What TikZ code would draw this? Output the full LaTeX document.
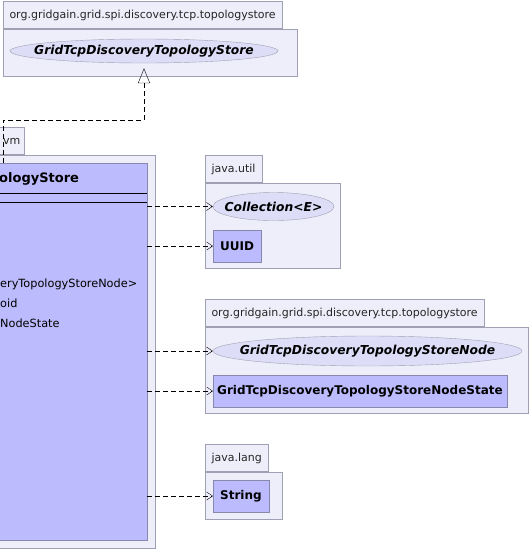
\documentclass[tikz,border=0pt]{standalone}
\usepackage{fontspec}
\setmainfont{DejaVu Sans}
\usetikzlibrary{positioning}
\usetikzlibrary{shapes.geometric}
\usetikzlibrary{arrows.meta}
\definecolor{pkgfill}{HTML}{EEEEFA}
\definecolor{pkgline}{HTML}{A0A0B4}
\definecolor{clsfill}{HTML}{BBBBFE}
\definecolor{clsline}{HTML}{8888AC}
\definecolor{ifcfill}{HTML}{DDDDF8}
\tikzstyle{pkgbody}=[draw=pkgline, fill=pkgfill, rectangle, inner sep=0pt]
\tikzstyle{pkgtab}=[draw=pkgline, fill=pkgfill, rectangle, anchor=south west, inner xsep=6.5pt, minimum height=27pt, font=\fontsize{11}{13}\selectfont, text=black!85]
\tikzstyle{iface}=[draw=pkgline, fill=ifcfill, ellipse, inner sep=0pt]
\tikzstyle{ifacename}=[inner sep=0pt, font=\fontsize{12.3}{14}\selectfont\bfseries\itshape]
\tikzstyle{cls}=[draw=clsline, fill=clsfill, rectangle, anchor=west, inner xsep=7pt, minimum height=32pt, font=\fontsize{12}{14}\selectfont\bfseries]
\tikzstyle{dep}=[dash pattern=on 5pt off 3pt, -{Straight Barb[length=6pt, width=8pt]}]
\tikzstyle{realize}=[dash pattern=on 5pt off 3pt, -{Triangle[open, length=15pt, width=12pt]}]

\begin{document}
\begin{tikzpicture}[x=1pt, y=-1pt]
    \useasboundingbox (0,0) rectangle (530,550);
    % topologystore package (top)
    \node[pkgbody, minimum width=294pt, minimum height=47pt] (top) at (150,52.5) {};
    \node[pkgtab] (toptab) at (top.north west) {org.gridgain.grid.spi.discovery.tcp.topologystore};
    \node[iface, minimum width=268pt, minimum height=24pt,
        label={[ifacename]center:GridTcpDiscoveryTopologyStore}] (store) at (144,51) {};
    % vm package
    \node[pkgbody, minimum width=156pt, minimum height=393pt] (vm) at (77,351.5) {};
    \node[pkgtab, inner xsep=4pt] (vmtab) at (vm.north west) {vm};
    \node[draw=clsline, fill=clsfill, rectangle, minimum width=148pt, minimum height=377pt] (main) at (73,351.5) {};
    \draw (main.west |- 0,193) -- (main.east |- 0,193);
    \draw (main.west |- 0,202) -- (main.east |- 0,202);
    \node[anchor=base west, inner sep=0pt, font=\fontsize{13}{15}\selectfont\bfseries] (mainname) at (-1,182) {ologyStore};
    \node[anchor=base west, inner sep=0pt, font=\fontsize{11.3}{13}\selectfont] (attr1) at (0,287) {eryTopologyStoreNode>};
    \node[anchor=base west, inner sep=0pt, font=\fontsize{11.3}{13}\selectfont] (attr2) at (0,307) {oid};
    \node[anchor=base west, inner sep=0pt, font=\fontsize{11.3}{13}\selectfont] (attr3) at (0,327) {NodeState};
    % java.util package
    \node[pkgbody, minimum width=135pt, minimum height=85pt] (util) at (272.5,225.5) {};
    \node[pkgtab] (utiltab) at (util.north west) {java.util};
    \node[iface, minimum width=121pt, minimum height=28pt,
        label={[ifacename]center:Collection<E>}] (coll) at (273.5,206.5) {};
    \node[cls] (uuid) at (213,246) {UUID};
    % topologystore package (nodes)
    \node[pkgbody, minimum width=323pt, minimum height=86pt] (nodes) at (366.5,370) {};
    \node[pkgtab] (nodestab) at (nodes.north west) {org.gridgain.grid.spi.discovery.tcp.topologystore};
    \node[iface, minimum width=309pt, minimum height=30pt,
        label={[ifacename]center:GridTcpDiscoveryTopologyStoreNode}] (node) at (367.5,351) {};
    \node[cls, inner xsep=4pt] (state) at (213,391) {GridTcpDiscoveryTopologyStoreNodeState};
    % java.lang package
    \node[pkgbody, minimum width=77pt, minimum height=47pt] (lang) at (243.5,495.5) {};
    \node[pkgtab] (langtab) at (lang.north west) {java.lang};
    \node[cls] (str) at (213,496) {String};
    % dependencies
    \draw[dep] (main.east |- coll.west) -- (coll.west);
    \draw[dep] (main.east |- uuid.west) -- (uuid.west);
    \draw[dep] (main.east |- node.west) -- (node.west);
    \draw[dep] (main.east |- state.west) -- (state.west);
    \draw[dep] (main.east |- str.west) -- (str.west);
    % realization
    \coordinate (bend) at (3,120);
    \draw[realize, shorten >=5pt] (bend |- main.north) -- (bend) -| (store.south);
\end{tikzpicture}
\end{document}
